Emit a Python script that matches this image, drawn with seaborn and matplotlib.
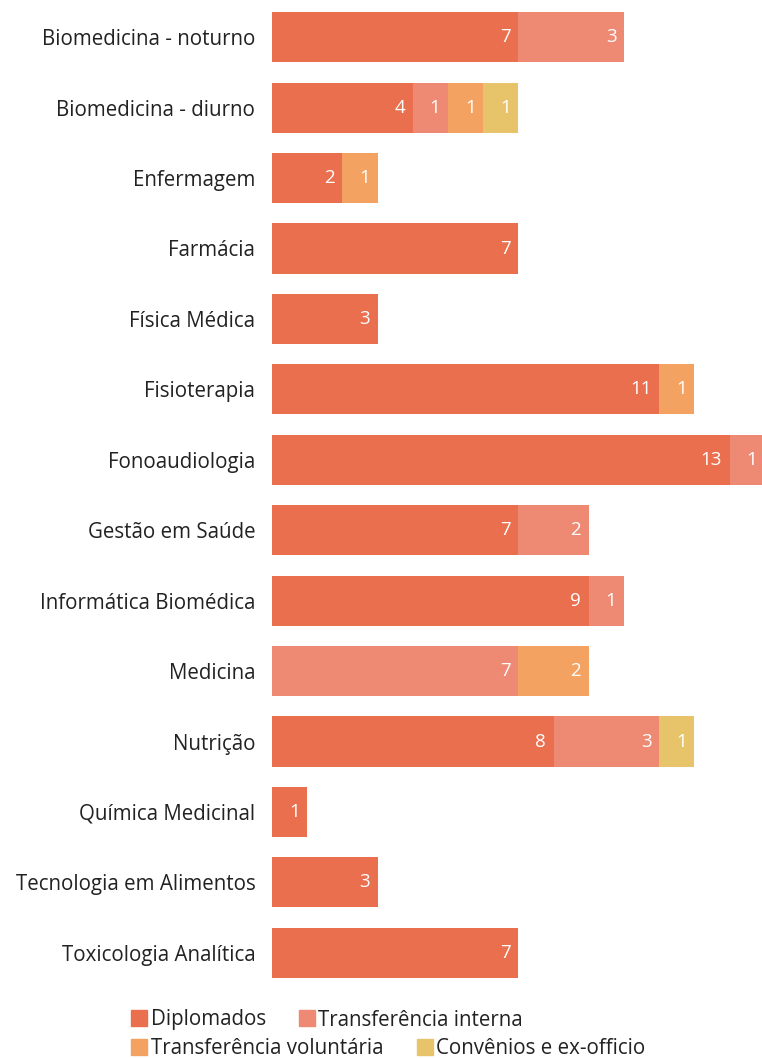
import matplotlib
matplotlib.use("Agg")
import matplotlib.pyplot as plt
import matplotlib.patches as mpatches
import seaborn as sns
import numpy as np
import pandas as pd

cursos = [
    "Biomedicina - noturno", "Biomedicina - diurno", "Enfermagem", "Farmácia",
    "Física Médica", "Fisioterapia", "Fonoaudiologia", "Gestão em Saúde",
    "Informática Biomédica", "Medicina", "Nutrição", "Química Medicinal",
    "Tecnologia em Alimentos", "Toxicologia Analítica",
]
diplomados = [7, 4, 2, 7, 3, 11, 13, 7, 9, 0, 8, 1, 3, 7]
transf_interna = [3, 1, 0, 0, 0, 0, 1, 2, 1, 7, 3, 0, 0, 0]
transf_voluntaria = [0, 1, 1, 0, 0, 1, 0, 0, 0, 2, 0, 0, 0, 0]
convenios = [0, 1, 0, 0, 0, 0, 0, 0, 0, 0, 1, 0, 0, 0]

series_names = ["Diplomados", "Transferência interna",
                "Transferência voluntária", "Convênios e ex-officio"]
cores = ["#EA6F4F", "#EE8A73", "#F4A261", "#E7C46A"]

sns.set_theme(style="white")
plt.rcParams["font.family"] = ["Open Sans", "DejaVu Sans"]

df = pd.DataFrame({
    "curso": cursos,
    series_names[0]: diplomados,
    series_names[1]: transf_interna,
    series_names[2]: transf_voluntaria,
    series_names[3]: convenios,
})
vals = df[series_names].to_numpy(dtype=float)
cum = np.cumsum(vals, axis=1)

fig = plt.figure(figsize=(7.62, 10.58), dpi=100)
ax = fig.add_axes([272 / 762, 70 / 1058, 1 - 272 / 762, 986 / 1058])

# stacked: draw cumulative totals from the outermost layer inward
for i in range(len(series_names) - 1, -1, -1):
    sns.barplot(x=cum[:, i], y=df["curso"], color=cores[i], saturation=1,
                width=0.71, linewidth=0, orient="h", ax=ax)

for i in range(len(series_names)):
    for j, v in enumerate(vals[:, i]):
        if v > 0:
            ax.annotate(f"{int(v)}", xy=(cum[j, i], j), xytext=(-5.5, 0),
                        textcoords="offset points", ha="right", va="center",
                        color="white", fontsize=13.5, annotation_clip=False)

ax.set_xlim(0, 13.92)
ax.set_ylim(len(cursos) - 0.5, -0.5)
ax.set_xlabel("")
ax.set_ylabel("")
ax.set_xticks([])
sns.despine(ax=ax, left=True, bottom=True, top=True, right=True)
ax.tick_params(axis="y", length=0, pad=12, labelsize=14.8, labelcolor="#222222")

handles = [mpatches.Patch(color=c, label=n) for c, n in zip(cores, series_names)]
leg_kw = dict(frameon=False, ncol=2, fontsize=14.8, handlelength=0.8,
              handleheight=0.8, handletextpad=0.15, borderpad=0, borderaxespad=0,
              labelcolor="#222222")
fig.legend(handles=handles[:2], loc="center left",
           bbox_to_anchor=(131 / 762, 1 - 1020 / 1058),
           columnspacing=1.6, **leg_kw)
fig.legend(handles=handles[2:], loc="center left",
           bbox_to_anchor=(131 / 762, 1 - 1049 / 1058),
           columnspacing=1.65, **leg_kw)

fig.savefig("out.png", dpi=100)
